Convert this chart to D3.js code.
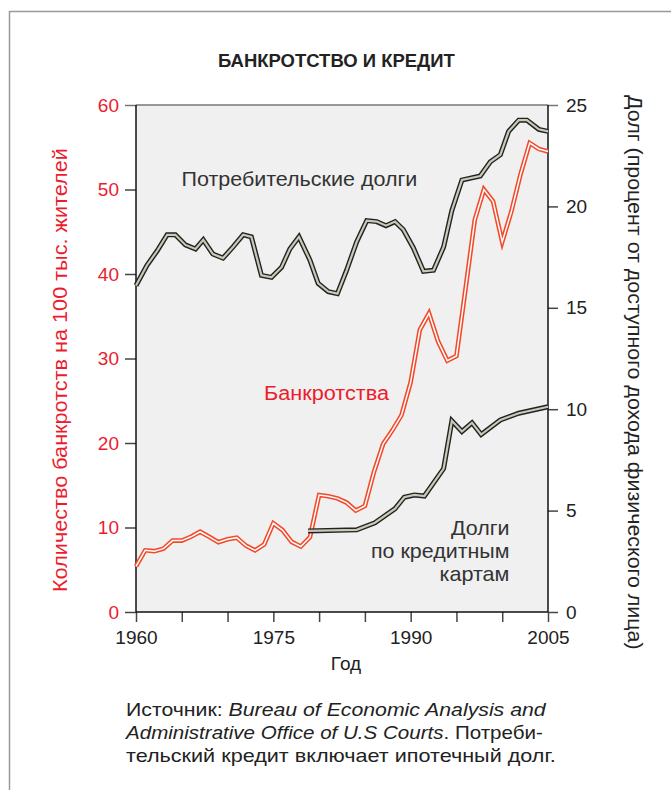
<!DOCTYPE html>
<html><head><meta charset="utf-8">
<script src="https://cdn.jsdelivr.net/npm/d3@7"></script>
<style>body{margin:0;background:#fff} svg{display:block}</style>
</head><body><svg id="c" width="671" height="790"></svg>
<script>
// ---- data ----
const bankYears = d3.range(1960, 2006);
const bankruptcies = [5.4,7.3,7.2,7.5,8.45,8.45,8.9,9.5,8.9,8.25,8.6,8.8,7.85,7.3,8.0,10.5,9.7,8.3,7.75,8.85,
  13.85,13.7,13.45,12.95,12.0,12.55,16.6,19.9,21.5,23.3,27.2,33.4,35.35,32.0,29.75,30.3,38.3,46.4,50.0,48.6,
  43.8,47.4,51.8,55.5,54.8,54.5];
const debtYears = [1960,1961.2,1962.3,1963.4,1964.3,1965.4,1966.5,1967.35,1968.4,1969.5,1970.6,1971.7,1972.6,
  1973.7,1974.8,1975.9,1976.8,1977.8,1979.0,1979.9,1981.0,1982.0,1983.0,1984.1,1985.2,1986.3,1987.3,1988.3,
  1989.2,1990.3,1991.4,1992.5,1993.6,1994.5,1995.6,1997.6,1998.7,1999.8,2000.7,2001.8,2002.7,2004.0,2005];
const consumerDebt = [16.1,17.1,17.8,18.6,18.6,18.1,17.9,18.35,17.65,17.45,18.0,18.6,18.5,16.6,16.5,17.0,17.9,
  18.5,17.35,16.2,15.8,15.7,16.85,18.25,19.3,19.25,19.05,19.25,18.85,17.95,16.8,16.85,18.0,19.8,21.3,21.5,22.2,
  22.55,23.7,24.25,24.25,23.8,23.7];
const cardYears = [1978.8,1984.1,1986.1,1988.3,1989.3,1990.4,1991.5,1993.6,1994.5,1995.6,1996.7,1997.7,1999.8,2001.8,2005];
const cardDebt = [4.0,4.05,4.4,5.1,5.66,5.77,5.72,7.07,9.43,8.9,9.33,8.75,9.47,9.8,10.12];
const xTicks = [1960,1965,1970,1975,1980,1985,1990,1995,2000,2005];
const xTickLabels = {1960:"1960",1975:"1975",1990:"1990",2005:"2005"};
const leftTicks = [0,10,20,30,40,50,60];
const rightTicks = [0,5,10,15,20,25];
const title = "БАНКРОТСТВО И КРЕДИТ";
const leftLabel = "Количество банкротств на 100 тыс. жителей";
const rightLabel = "Долг (процент от доступного дохода физического лица)";
const xLabel = "Год";
const debtLabel = "Потребительские долги";
const bankLabel = "Банкротства";
const cardLabel = ["Долги","по кредитным","картам"];
const footer = [
  [["Источник: ", false], ["Bureau of Economic Analysis and", true]],
  [["Administrative Office of U.S Courts", true], [". Потреби-", false]],
  [["тельский кредит включает ипотечный долг.", false]]
];

// ---- layout ----
const svg = d3.select("#c");
const L = 136, R = 548, T = 105, B = 612;
const FONT = "'Liberation Sans', Arial, Helvetica, sans-serif";
const RED = "#ec1c2e", LINE_RED = "#f2492a", DARK = "#222";

// place a text so that it spans a target width (horizontal glyph scaling, like a wider face)
function placeFit(sel, tx, ty, rot, target) {
  const w = sel.node().getComputedTextLength();
  sel.attr("x",0).attr("y",0)
     .attr("transform",`translate(${tx},${ty}) rotate(${rot}) scale(${(target / w).toFixed(4)},1)`);
  return sel;
}
function txt(s, size, fill, weight) {
  return svg.append("text").attr("font-family",FONT).attr("font-size",size)
    .attr("font-weight",weight || "normal").attr("fill",fill).text(s);
}

const x = d3.scaleLinear().domain([1960, 2005]).range([L, R]);
const yL = d3.scaleLinear().domain([0, 60]).range([B, T]);
const yR = d3.scaleLinear().domain([0, 25]).range([B, T]);

// frame
svg.append("line").attr("x1",9.5).attr("x2",671).attr("y1",11.5).attr("y2",11.5).attr("stroke","#999").attr("stroke-width",1.5);
svg.append("line").attr("x1",9.5).attr("x2",9.5).attr("y1",11).attr("y2",790).attr("stroke","#999").attr("stroke-width",1.5);

// title
placeFit(txt(title, 17.5, "#222", "bold"), 218, 67, 0, 237);

// plot background
svg.append("rect").attr("x",L).attr("y",T).attr("width",R-L).attr("height",B-T).attr("fill","#f0f0f0");

// axes
const gL = svg.append("g").attr("transform",`translate(${L},0)`)
  .call(d3.axisLeft(yL).tickValues(leftTicks).tickSize(11).tickPadding(6));
const gR = svg.append("g").attr("transform",`translate(${R},0)`)
  .call(d3.axisRight(yR).tickValues(rightTicks).tickSize(10).tickPadding(8));
const gX = svg.append("g").attr("transform",`translate(0,${B})`)
  .call(d3.axisBottom(x).tickValues(xTicks).tickSize(10).tickPadding(9).tickFormat(d => xTickLabels[d] || ""));
[gL,gR,gX].forEach(g => {
  g.select(".domain").remove();
  g.selectAll(".tick line").attr("stroke","#444").attr("stroke-width",1.5);
  g.selectAll("text").attr("font-family",FONT).attr("font-size",19).attr("fill","#222");
});
gL.selectAll("text").attr("fill",RED);
gL.selectAll(".tick").filter(d => d === 60).select("line").attr("stroke","#777");
gR.selectAll(".tick").filter(d => d === 25).select("line").attr("stroke","#777");

// axis frame lines
svg.append("line").attr("x1",L).attr("x2",R).attr("y1",T).attr("y2",T).attr("stroke","#777").attr("stroke-width",1.5);
svg.append("line").attr("x1",L).attr("x2",L).attr("y1",T).attr("y2",B).attr("stroke","#111").attr("stroke-width",1.5);
svg.append("line").attr("x1",R).attr("x2",R).attr("y1",T).attr("y2",B).attr("stroke","#111").attr("stroke-width",1.5);
svg.append("line").attr("x1",L).attr("x2",R).attr("y1",B).attr("y2",B).attr("stroke","#111").attr("stroke-width",1.5);

// lines
const bankData = bankYears.map((yr,i) => [yr, bankruptcies[i]]);
const debtData = debtYears.map((yr,i) => [yr, consumerDebt[i]]);
const cardData = cardYears.map((yr,i) => [yr, cardDebt[i]]);
const lineL = d3.line().x(d => x(d[0])).y(d => yL(d[1]));
const lineR = d3.line().x(d => x(d[0])).y(d => yR(d[1]));

function cased(path, outer, inner, wo, wi) {
  svg.append("path").attr("d",path).attr("fill","none").attr("stroke",outer).attr("stroke-width",wo).attr("stroke-linejoin","miter");
  svg.append("path").attr("d",path).attr("fill","none").attr("stroke",inner).attr("stroke-width",wi).attr("stroke-linejoin","miter");
}
cased(lineR(debtData), DARK, "#c8cab6", 5, 2.2);
cased(lineL(bankData), LINE_RED, "#fff", 4.6, 1.5);
cased(lineR(cardData), DARK, "#c8cab6", 5, 2.2);

// annotations
placeFit(txt(debtLabel, 20, "#333"), 181.5, 185.5, 0, 236);
placeFit(txt(bankLabel, 20, RED), 264, 400, 0, 125);
const cardRight = 509.5, cardW = [58.5, 138.5, 70];
cardLabel.forEach((t,i) => placeFit(txt(t, 20, "#333"), cardRight - cardW[i], 535 + i*23, 0, cardW[i]));

// axis titles
placeFit(txt(leftLabel, 19.5, RED), 67, 370 + 222, -90, 444);
placeFit(txt(rightLabel, 19.5, "#222"), 628, 372.5 - 277.5, 90, 555);
svg.append("text").attr("x",346).attr("y",670).attr("text-anchor","middle")
  .attr("font-family",FONT).attr("font-size",19).attr("fill","#222").text(xLabel);

// footer
const footW = [420, 417, 430];
footer.forEach((parts,i) => {
  const t = txt("", 18, "#222");
  parts.forEach(([s,it]) => t.append("tspan").attr("font-style", it ? "italic" : "normal").text(s));
  placeFit(t, 126, 716 + i*23, 0, footW[i]);
});
</script>
</body></html>
